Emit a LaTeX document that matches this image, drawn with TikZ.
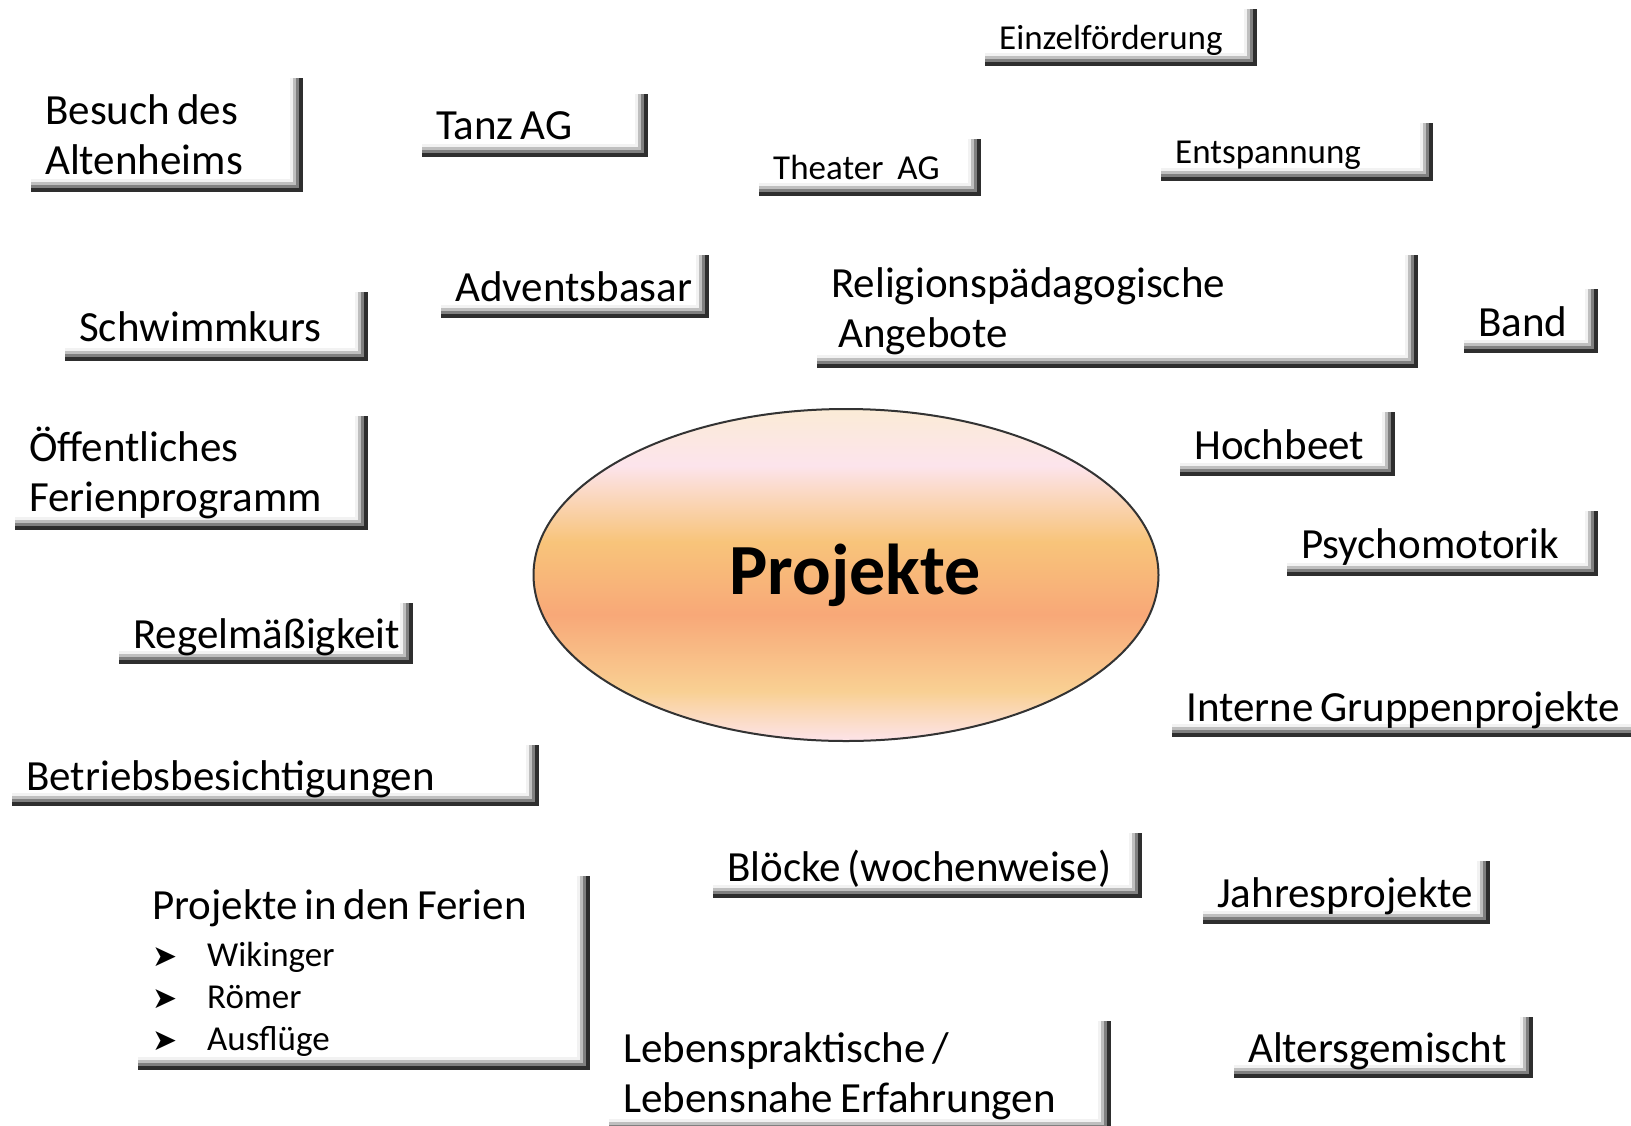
\documentclass[tikz,border=0pt]{standalone}
\usepackage{fontspec}
\setmainfont{Carlito}
\newfontfamily\arrowfont{DejaVu Sans}
\usetikzlibrary{shapes.geometric}

\newcommand{\boxfont}{\fontsize{43}{50}\selectfont}
\newcommand{\smallboxfont}{\fontsize{35}{42}\selectfont}
\newcommand{\centerfont}{\fontsize{72}{86}\selectfont\bfseries}
\newcommand{\ferienitem}[1]{\makebox[55pt][l]{\fontsize{30}{36}\selectfont\arrowfont ➤}{\smallboxfont #1}}
\newcommand{\bevelband}[2]{%
  \fill[#2] ([xshift=-#1]path picture bounding box.north east) rectangle (path picture bounding box.south east);
  \fill[#2] ([yshift=#1]path picture bounding box.south west) rectangle (path picture bounding box.south east);}

\definecolor{creamtop}{HTML}{FBEBD6}
\definecolor{pinktop}{HTML}{FCE4EC}
\definecolor{orangemid}{HTML}{F8C47A}
\definecolor{salmonmid}{HTML}{F8A878}
\definecolor{lightorange}{HTML}{F9D093}
\definecolor{pinkbot}{HTML}{FDE4EA}

\pgfdeclareverticalshading{projshade}{100bp}{color(0bp)=(pinkbot); color(25bp)=(pinkbot);
  color(32.5bp)=(lightorange); color(44bp)=(salmonmid); color(55bp)=(orangemid);
  color(66.5bp)=(pinktop); color(75bp)=(creamtop); color(100bp)=(creamtop)}

\begin{document}
\begin{tikzpicture}[x=1pt, y=-1pt,
    projbox/.style={rectangle, fill=white, anchor=north west, align=flush left,
      inner xsep=14pt, inner ysep=0pt, font=\boxfont,
      execute at begin node={\spaceskip=0.16em plus 0.05em\relax},
      path picture={
        \bevelband{13pt}{black!5}
        \bevelband{10pt}{black!25}
        \bevelband{7pt}{black!50}
        \bevelband{4pt}{black!82}
      }},
    linebox/.style={projbox, text depth=0pt},
    smallbox/.style={linebox, font=\smallboxfont},
    projellipse/.style={ellipse, shade, shading=projshade, draw=black!80,
      line width=2pt, minimum width=625pt, minimum height=332pt,
      font=\centerfont}]

\useasboundingbox (0,0) rectangle (1631,1125);
\fill[white] (0,0) rectangle (1631,1125);
\clip (0,0) rectangle (1631,1125);

\node (projekte) [projellipse] at (846,575) {\hspace*{18pt}Projekte};

% left column
\node (besuch) [projbox, text width=244pt, minimum height=114pt] at (31,78)
    {Besuch des\\Altenheims};
\node (schwimm) [linebox, text width=275pt, minimum height=69pt] at (65,292)
    {Schwimmkurs};
\node (ferienprog) [projbox, text width=325pt, minimum height=114pt] at (15,416)
    {Öffentliches\\Ferienprogramm};
\node (regel) [linebox, text width=266pt, minimum height=61pt] at (119,603)
    {Regelmäßigkeit};
\node (betrieb) [linebox, text width=499pt, minimum height=61pt] at (12,745)
    {Betriebsbesichtigungen};
\node (ferien) [projbox, text width=424pt, minimum height=194pt] at (138,876)
    {Projekte in den Ferien\\[-3pt]
     \ferienitem{Wikinger}\\[-8pt]
     \ferienitem{Römer}\\[-8pt]
     \ferienitem{Ausflüge}};

% top row
\node (tanz) [linebox, text width=198pt, minimum height=63pt] at (422,94)
    {Tanz AG};
\node (advent) [linebox, text width=240pt, minimum height=63pt] at (441,255)
    {Adventsbasar};
\node (theater) [smallbox, text width=194pt, minimum height=57pt] at (759,139)
    {Theater\hspace{14pt}AG};
\node (einzel) [smallbox, text width=244pt, minimum height=57pt] at (985,9)
    {Einzelförderung};
\node (entspannung) [smallbox, text width=244pt, minimum height=58pt] at (1161,123)
    {Entspannung};
\node (religion) [projbox, text width=573pt, minimum height=113pt] at (817,255)
    {Religionspädagogische\\\hspace*{7pt}Angebote};
\node (band) [linebox, text width=106pt, minimum height=64pt] at (1464,289)
    {Band};

% right column
\node (hochbeet) [linebox, text width=187pt, minimum height=64pt] at (1180,412)
    {Hochbeet};
\node (psycho) [linebox, text width=283pt, minimum height=65pt] at (1287,511)
    {Psychomotorik};
\node (intern) [linebox, text width=450pt, minimum height=61pt] at (1172,676)
    {Interne Gruppenprojekte};
\node (jahres) [linebox, text width=259pt, minimum height=63pt] at (1203,861)
    {Jahresprojekte};
\node (alters) [linebox, text width=271pt, minimum height=61pt] at (1234,1017)
    {Altersgemischt};

% bottom middle
\node (bloecke) [linebox, text width=401pt, minimum height=65pt] at (713,833)
    {Blöcke (wochenweise)};
\node (lebens) [projbox, text width=474pt, minimum height=111pt] at (609,1021)
    {Lebenspraktische /\\Lebensnahe Erfahrungen};

\end{tikzpicture}
\end{document}
